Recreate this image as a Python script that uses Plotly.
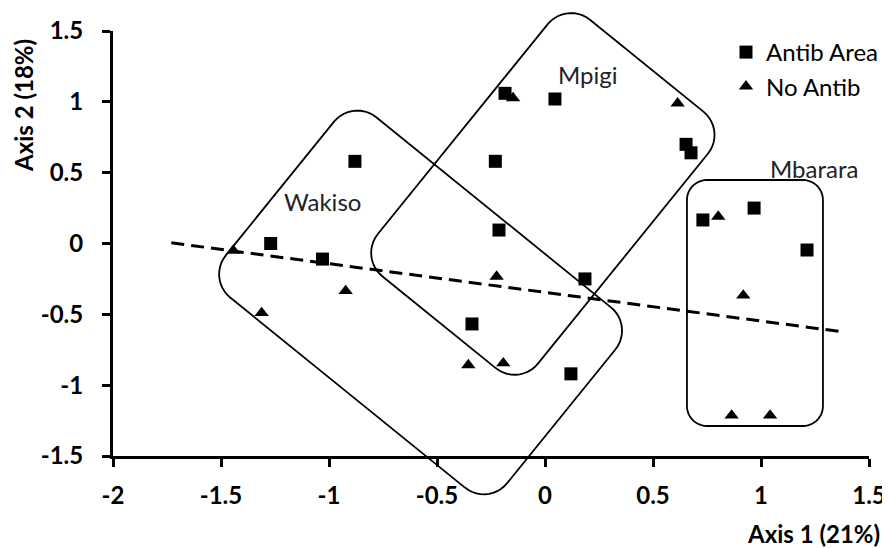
import numpy as np
import plotly.graph_objects as go

# data
antib_x = [-1.27, -1.03, -0.88, -0.185, 0.046, -0.23, 0.653, 0.676, -0.213, 0.731, 0.968, 1.213, 0.185, -0.338, 0.12]
antib_y = [0.0, -0.11, 0.58, 1.06, 1.02, 0.58, 0.70, 0.64, 0.095, 0.166, 0.25, -0.046, -0.25, -0.568, -0.92]

noantib_x = [-1.443, -1.312, -0.923, -0.148, 0.614, 0.802, -0.224, -0.355, -0.193, 0.918, 0.864, 1.042]
noantib_y = [-0.05, -0.49, -0.335, 1.027, 0.99, 0.19, -0.233, -0.858, -0.845, -0.367, -1.214, -1.214]

trend_x = [-1.73, 1.36]
trend_y = [0.005, -0.62]

x_ticks = [-2, -1.5, -1, -0.5, 0, 0.5, 1, 1.5]
x_tick_labels = ["-2", "-1.5", "-1", "-0.5", "0", "0.5", "1", "1.5"]
y_ticks = [-1.5, -1, -0.5, 0, 0.5, 1, 1.5]
y_tick_labels = ["-1.5", "-1", "-0.5", "0", "0.5", "1", "1.5"]

group_names = ["Wakiso", "Mpigi", "Mbarara"]
group_label_x = [-1.03, 0.2, 1.245]
group_label_y = [0.30, 1.19, 0.53]

# group outlines: centre (data), half sizes / corner radius in px, angle in deg
outlines = [
    dict(cx=-0.576, cy=-0.416, a=181, b=116, r=30, ang=39),
    dict(cx=-0.01, cy=0.35, a=103, b=165, r=30, ang=39),
    dict(cx=0.972, cy=-0.42, a=68, b=123, r=20, ang=0),
]

W, H = 890, 548
OFF = 8  # page body margin
ML, MT = 113 - OFF, 31 - OFF
PW, PH = 756, 425
MR, MB = W - ML - PW, H - MT - PH
XR = [-2, 1.5]
YR = [-1.5, 1.5]
FONT = "Lato"
FS = 24


def outline_path(cx, cy, a, b, r, ang, n=12):
    # rounded rectangle drawn in pixel space, returned in paper coords
    pts = []
    corners = [(a - r, b - r, 0), (-(a - r), b - r, 90), (-(a - r), -(b - r), 180), (a - r, -(b - r), 270)]
    for ox, oy, start in corners:
        for t in np.linspace(start, start + 90, n):
            pts.append((ox + r * np.cos(np.radians(t)), oy + r * np.sin(np.radians(t))))
    th = np.radians(ang)
    px0 = (cx - XR[0]) / (XR[1] - XR[0])
    py0 = (cy - YR[0]) / (YR[1] - YR[0])
    out = []
    for lx, ly in pts:
        X = lx * np.cos(th) - ly * np.sin(th)
        Y = lx * np.sin(th) + ly * np.cos(th)
        out.append((px0 + X / PW, py0 - Y / PH))
    return "M " + " L ".join(f"{x:.5f},{y:.5f}" for x, y in out) + " Z"


def paper_x(px):
    return (px - 113) / PW


def paper_y(py):
    return (456 - py) / PH


fig = go.Figure()

fig.add_trace(go.Scatter(x=trend_x, y=trend_y, mode="lines", showlegend=False,
                         line=dict(color="black", width=3, dash="13px,7px")))
fig.add_trace(go.Scatter(x=antib_x, y=antib_y, mode="markers", name="Antib Area",
                         legendgroup="a",
                         marker=dict(symbol="square", size=13, color="black")))
fig.add_trace(go.Scatter(x=noantib_x, y=noantib_y, mode="markers", name="No Antib",
                         legendgroup="b",
                         marker=dict(symbol="triangle-up", size=12.5, color="black")))

for o in outlines:
    fig.add_shape(type="path", xref="paper", yref="paper", path=outline_path(**o),
                  line=dict(color="black", width=1.8))

for name, gx, gy in zip(group_names, group_label_x, group_label_y):
    fig.add_annotation(x=gx, y=gy, xref="x", yref="y", text=name, showarrow=False,
                       xanchor="center", yanchor="middle",
                       font=dict(family=FONT, size=FS, color="#222"))

fig.add_annotation(x=paper_x(23), y=paper_y(106), xref="paper", yref="paper",
                   text="Axis 2 (18%)", textangle=-90, showarrow=False,
                   xanchor="center", yanchor="middle",
                   font=dict(family=FONT, size=FS, color="black", weight="bold"))
fig.add_annotation(x=paper_x(813), y=paper_y(533), xref="paper", yref="paper",
                   text="Axis 1 (21%)", showarrow=False,
                   xanchor="center", yanchor="middle",
                   font=dict(family=FONT, size=FS, color="black", weight="bold"))

axis_style = dict(showgrid=False, zeroline=False, showline=True, linecolor="black", linewidth=3,
                  ticks="outside", ticklen=8, tickwidth=2.5, tickcolor="black", automargin=False,
                  tickfont=dict(family=FONT, size=FS, color="black", weight="bold"))

fig.update_xaxes(range=XR, tickvals=x_ticks, ticktext=x_tick_labels, ticklabelstandoff=8, **axis_style)
fig.update_yaxes(range=YR, tickvals=y_ticks, ticktext=y_tick_labels, ticklabelstandoff=14, **axis_style)

fig.update_layout(
    width=W, height=H,
    margin=dict(l=ML, r=MR, t=MT, b=MB),
    plot_bgcolor="white", paper_bgcolor="white",
    font=dict(family=FONT, color="black"),
    legend=dict(x=paper_x(726), y=paper_y(30), xanchor="left", yanchor="top", tracegroupgap=0,
                font=dict(family=FONT, size=FS, color="black"), bgcolor="rgba(0,0,0,0)"),
)

fig.write_html("out.html")
